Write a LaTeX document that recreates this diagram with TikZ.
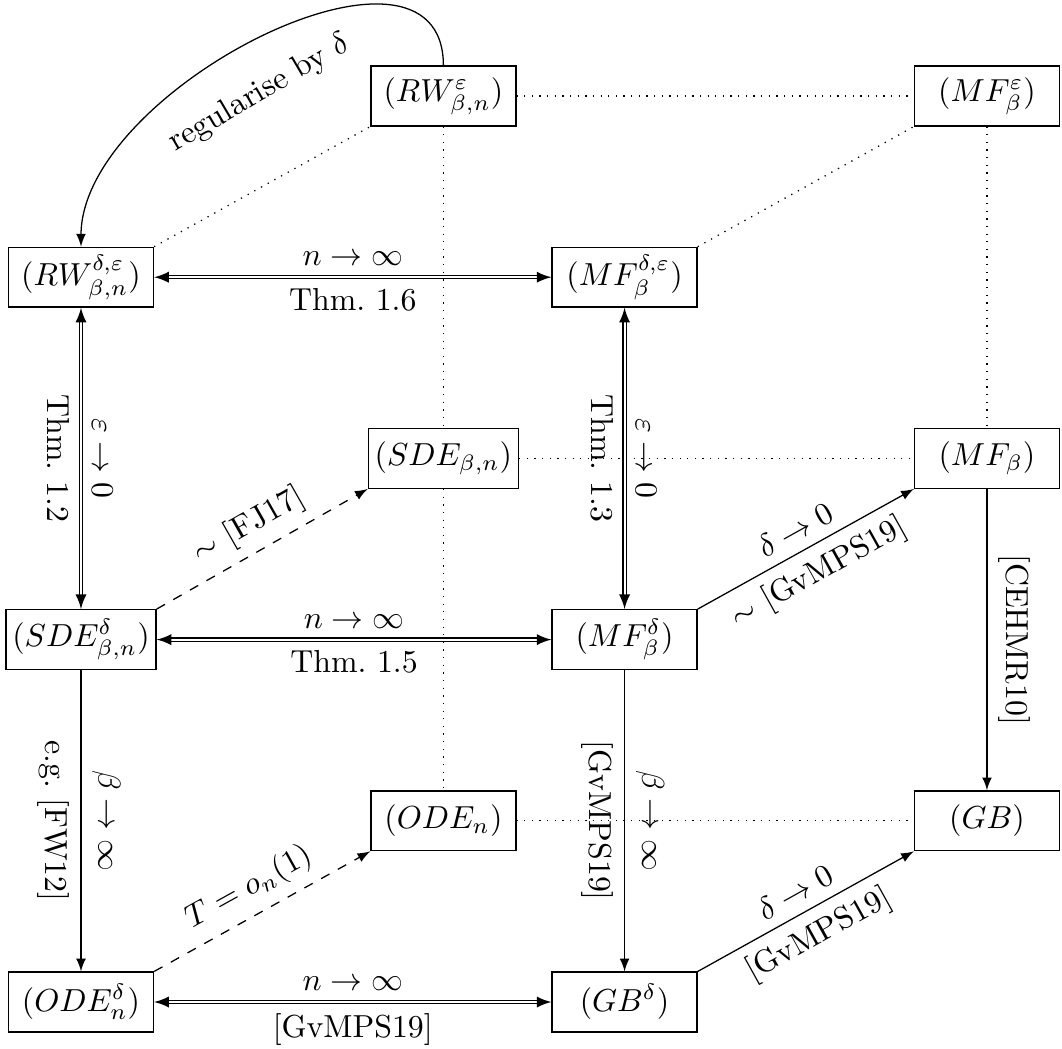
\documentclass[tikz,border=0pt]{standalone}
\begin{document}
\begin{tikzpicture}[
  box/.style={draw, minimum width=1.6cm, minimum height=0.66cm, inner sep=2pt},
  dbl/.style={double, <->, >=latex},
  sgl/.style={->, >=latex},
  dsh/.style={dashed, ->, >=latex},
  dotl/.style={dotted},
  vr/.style={midway, rotate=-90, anchor=south},
  vl/.style={midway, rotate=-90, anchor=north}
]
\useasboundingbox (-0.894,-0.508) rectangle (10.828,11.06);
% front face
\node[box] (RWde) at (0,8) {$(RW^{\delta,\varepsilon}_{\beta,n})$};
\node[box] (MFde) at (6,8) {$(MF^{\delta,\varepsilon}_\beta)$};
\node[box] (SDEd) at (0,4) {$(SDE^\delta_{\beta,n})$};
\node[box] (MFd) at (6,4) {$(MF^\delta_\beta)$};
\node[box] (ODEd) at (0,0) {$(ODE^\delta_n)$};
\node[box] (GBd) at (6,0) {$(GB^\delta)$};
% back face
\node[box] (RWe) at (4,10) {$(RW^\varepsilon_{\beta,n})$};
\node[box] (MFe) at (10,10) {$(MF^\varepsilon_\beta)$};
\node[box] (SDE) at (4,6) {$(SDE_{\beta,n})$};
\node[box] (MFb) at (10,6) {$(MF_\beta)$};
\node[box] (ODEn) at (4,2) {$(ODE_n)$};
\node[box] (GB) at (10,2) {$(GB)$};
% dotted hidden edges
\draw[dotl] (RWde.north east) -- (RWe.south west);
\draw[dotl] (MFde.north east) -- (MFe.south west);
\draw[dotl] (RWe) -- (MFe);
\draw[dotl] (RWe) -- (SDE);
\draw[dotl] (SDE) -- (ODEn);
\draw[dotl] (MFe) -- (MFb);
\draw[dotl] (SDE) -- (MFb);
\draw[dotl] (ODEn) -- (GB);
% curve
\draw[sgl] (RWe.north) to[out=90,in=90] node[pos=0.55, sloped, below=0.25cm] {regularise by $\delta$} (RWde.north);
% horizontal double arrows
\draw[dbl] (RWde) -- node[above]{$n\to\infty$} node[below]{Thm.~1.6} (MFde);
\draw[dbl] (SDEd) -- node[above]{$n\to\infty$} node[below]{Thm.~1.5} (MFd);
\draw[dbl] (ODEd) -- node[above]{$n\to\infty$} node[below]{[GvMPS19]} (GBd);
% vertical double arrows
\draw[dbl] (RWde) -- node[vr]{$\varepsilon\to0$} node[vl]{Thm.~1.2} (SDEd);
\draw[dbl] (MFde) -- node[vr]{$\varepsilon\to0$} node[vl]{Thm.~1.3} (MFd);
% vertical single arrows
\draw[sgl] (SDEd) -- node[vr]{$\beta\to\infty$} node[vl]{e.g.~[FW12]} (ODEd);
\draw[sgl] (MFd) -- node[vr]{$\beta\to\infty$} node[vl]{[GvMPS19]} (GBd);
\draw[sgl] (MFb) -- node[vr]{[CEHMR10]} (GB);
% diagonal arrows
\draw[dsh] (SDEd.north east) -- node[midway, sloped, above]{$\sim$ [FJ17]} (SDE.south west);
\draw[dsh] (ODEd.north east) -- node[midway, sloped, above]{$T=o_n(1)$} (ODEn.south west);
\draw[sgl] (MFd.north east) -- node[midway, sloped, above]{$\delta\to0$} node[midway, sloped, below]{$\sim$ [GvMPS19]} (MFb.south west);
\draw[sgl] (GBd.north east) -- node[midway, sloped, above]{$\delta\to0$} node[midway, sloped, below]{[GvMPS19]} (GB.south west);
\end{tikzpicture}
\end{document}
